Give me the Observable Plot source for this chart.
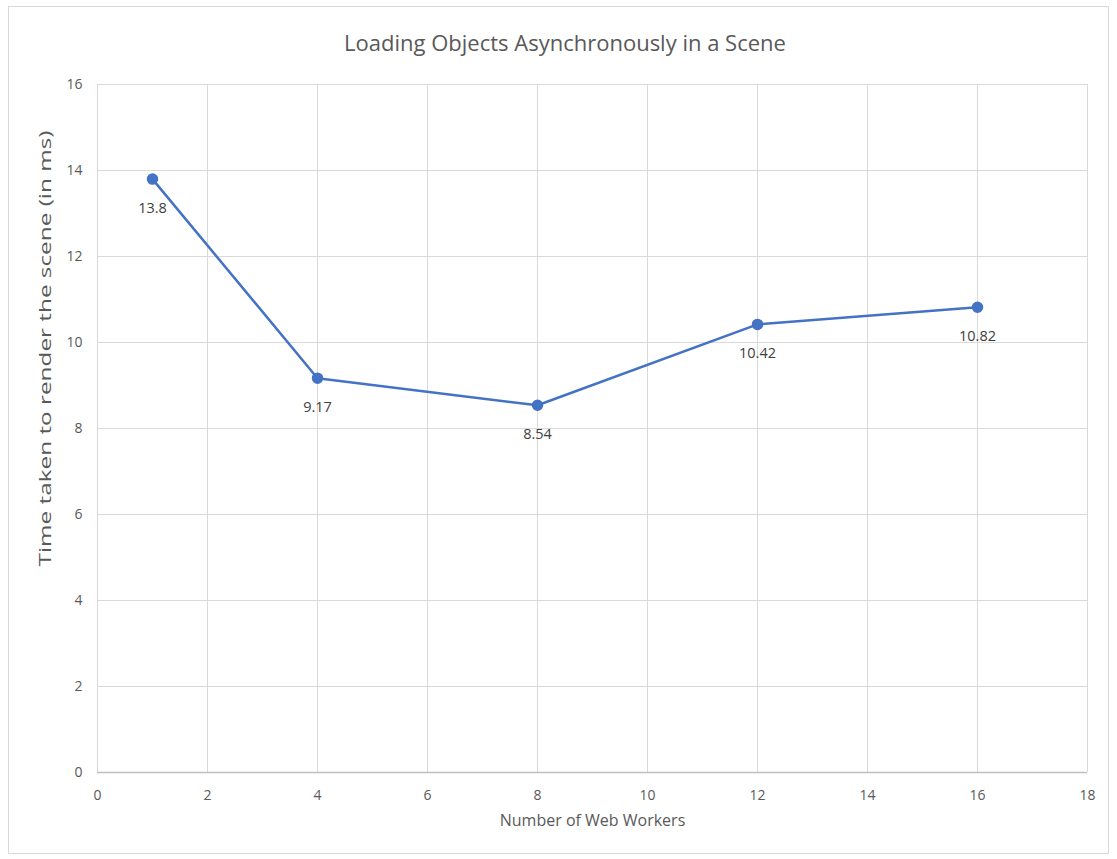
<!DOCTYPE html>
<html>
<head>
<meta charset="utf-8">
<script src="https://cdn.jsdelivr.net/npm/d3@7"></script>
<script src="https://cdn.jsdelivr.net/npm/@observablehq/plot@0.6"></script>
<style>
  body { margin: 0; background: #fff; font-family: "Open Sans", "Liberation Sans", sans-serif; }
  #frame { position: absolute; left: 8px; top: 6px; width: 1101px; height: 848px; border: 1px solid #d9d9d9; box-sizing: border-box; }
  #title { position: absolute; left: 0; top: 27px; width: 1130px; text-align: center; font-size: 22px; color: #595959; }
  #chart { position: absolute; left: 0; top: 60px; }
</style>
</head>
<body>
<div id="frame"></div>
<div id="title">Loading Objects Asynchronously in a Scene</div>
<div id="chart"></div>
<script>
const workers = [1, 4, 8, 12, 16];
const times = [13.8, 9.17, 8.54, 10.42, 10.82];
const xTicks = [0, 2, 4, 6, 8, 10, 12, 14, 16, 18];
const yTicks = [0, 2, 4, 6, 8, 10, 12, 14, 16];
const xLabel = "Number of Web Workers";
const yLabel = "Time taken to render the scene (in ms)";

const data = workers.map((w, i) => ({x: w, y: times[i]}));

const chart = Plot.plot({
  width: 1117,
  height: 790,
  marginLeft: 97,
  marginRight: 30,
  marginTop: 24,
  marginBottom: 78,
  style: {fontFamily: '"Open Sans", "Liberation Sans", sans-serif', fontSize: "14px", color: "#595959", background: "transparent"},
  x: {domain: [0, 18], ticks: xTicks, tickSize: 0, tickPadding: 18, label: null},
  y: {domain: [0, 16], ticks: yTicks, tickSize: 0, tickPadding: 15, label: null},
  marks: [
    Plot.gridX(xTicks, {stroke: "#d9d9d9", strokeOpacity: 1, strokeWidth: 1}),
    Plot.gridY(yTicks, {stroke: "#d9d9d9", strokeOpacity: 1, strokeWidth: 1}),
    Plot.ruleY([0], {stroke: "#bfbfbf", strokeWidth: 1.5}),
    Plot.axisX({ticks: xTicks, tickSize: 0, tickPadding: 18, fill: "#595959", label: null, fontSize: 14}),
    Plot.axisY({ticks: yTicks, tickSize: 0, tickPadding: 15, fill: "#595959", label: null, fontSize: 14}),
    Plot.line(data, {x: "x", y: "y", stroke: "#4472C4", strokeWidth: 2.5}),
    Plot.dot(data, {x: "x", y: "y", r: 5, fill: "#4472C4", stroke: "#4472C4"}),
    Plot.text(data, {x: "x", y: "y", text: d => String(d.y), dy: 29, fill: "#404040", fontSize: 14.5}),
    Plot.text([xLabel], {frameAnchor: "bottom", dy: 53, fill: "#595959", fontSize: 16}),
    Plot.text([yLabel], {frameAnchor: "left", dx: -51, dy: 138, textAnchor: "start", rotate: -90, fill: "#595959", fontSize: 15.5})
  ]
});
// stretch the rotated y label along its length, as in the reference
d3.select(chart).selectAll("text")
  .filter(function() { return this.textContent === yLabel; })
  .attr("textLength", 436)
  .attr("lengthAdjust", "spacingAndGlyphs");
document.getElementById("chart").appendChild(chart);
</script>
</body>
</html>
